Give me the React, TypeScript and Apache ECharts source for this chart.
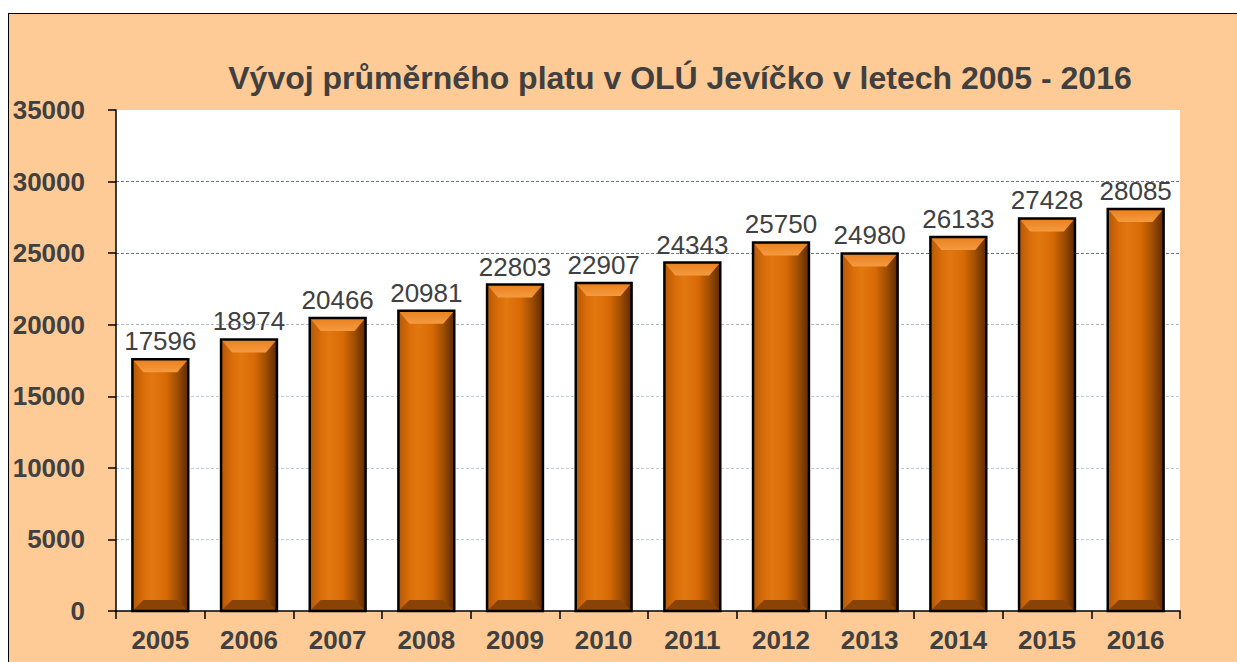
import React, { useEffect, useRef } from "react";
import * as echarts from "echarts";

const categories = ["2005", "2006", "2007", "2008", "2009", "2010", "2011", "2012", "2013", "2014", "2015", "2016"];
const values = [17596, 18974, 20466, 20981, 22803, 22907, 24343, 25750, 24980, 26133, 27428, 28085];
const yTicks = { min: 0, max: 35000, interval: 5000 };
const titleText = "Vývoj průměrného platu v OLÚ Jevíčko v letech 2005 - 2016";

const FONT = "Liberation Sans, Arial, sans-serif";
const TEXT = "#404040";

export default function App() {
  const ref = useRef<HTMLDivElement>(null);
  useEffect(() => {
    if (!ref.current) return;
    const chart = echarts.init(ref.current, null, { renderer: "svg" });
    const option: any = {
      animation: false,
      backgroundColor: "#fecb97",
      title: {
        text: titleText,
        left: 666,
        top: 43,
        textAlign: "center",
        textStyle: { fontFamily: FONT, fontSize: 32, fontWeight: "bold", color: TEXT },
      },
      grid: {
        left: 107,
        top: 96,
        right: 57,
        bottom: 51,
        show: true,
        backgroundColor: "#ffffff",
        borderWidth: 0,
      },
      xAxis: {
        type: "category",
        data: categories,
        axisLine: { lineStyle: { color: "#000", width: 1.5 } },
        axisTick: { show: true, length: 8, lineStyle: { color: "#000", width: 1.5 } },
        axisLabel: { margin: 16, fontFamily: FONT, fontSize: 26, fontWeight: "bold", color: TEXT },
      },
      yAxis: {
        type: "value",
        min: yTicks.min,
        max: yTicks.max,
        interval: yTicks.interval,
        axisLine: { show: true, lineStyle: { color: "#000", width: 1.5 } },
        axisTick: { show: true, length: 8, lineStyle: { color: "#000", width: 1.5 } },
        axisLabel: {
          margin: 31,
          fontFamily: FONT,
          fontSize: 26,
          fontWeight: "bold",
          color: TEXT,
          formatter: (v: number) => String(v),
        },
        splitLine: {
          show: true,
          lineStyle: {
            type: [3, 2],
            width: 1,
            color: ["rgba(0,0,0,0)", "#b9cde2", "#b9cde2", "#b9cde2", "#a9b9cc", "#6f7680", "#6f7680", "rgba(0,0,0,0)"],
          },
        },
      },
      series: [
        {
          type: "custom",
          data: values.map((v, i) => [i, v]),
          encode: { x: 0, y: 1 },
          renderItem: (params: any, api: any) => {
            const idx = api.value(0);
            const val = api.value(1);
            const top = api.coord([idx, val]);
            const base = api.coord([idx, 0]);
            const w = api.size([1, 0])[0] * 0.63;
            const x0 = top[0] - w / 2;
            const x1 = top[0] + w / 2;
            const y0 = top[1];
            const yb = base[1];
            const b = 11;
            const bt = 13;
            return {
              type: "group",
              children: [
                {
                  type: "rect",
                  shape: { x: x0, y: y0, width: w, height: yb - y0 },
                  style: {
                    fill: new echarts.graphic.LinearGradient(0, 0, 1, 0, [
                      { offset: 0, color: "#b45806" },
                      { offset: 0.2, color: "#da6d08" },
                      { offset: 0.35, color: "#e27810" },
                      { offset: 0.6, color: "#d86a06" },
                      { offset: 0.8, color: "#a04e02" },
                      { offset: 1, color: "#5e2a00" },
                    ]),
                  },
                },
                {
                  type: "polygon",
                  shape: { points: [[x0, y0], [x1, y0], [x1 - b, y0 + bt], [x0 + b, y0 + bt]] },
                  style: {
                    fill: new echarts.graphic.LinearGradient(0, 0, 0, 1, [
                      { offset: 0, color: "#e8801c" },
                      { offset: 1, color: "#f59a40" },
                    ]),
                  },
                },
                {
                  type: "polygon",
                  shape: { points: [[x0, yb], [x1, yb], [x1 - b, yb - b], [x0 + b, yb - b]] },
                  style: { fill: "#8a4306" },
                },
                {
                  type: "rect",
                  shape: { x: x0, y: y0, width: w, height: yb - y0 },
                  style: { fill: "none", stroke: "#000", lineWidth: 2.5 },
                },
                {
                  type: "text",
                  x: top[0],
                  y: y0 - 5,
                  style: {
                    text: String(val),
                    textAlign: "center",
                    textVerticalAlign: "bottom",
                    fontFamily: FONT,
                    fontSize: 26,
                    fill: TEXT,
                  },
                },
              ],
            };
          },
        },
      ],
    };
    chart.setOption(option);
    return () => chart.dispose();
  }, []);

  return (
    <div
      style={{
        position: "fixed",
        left: 8,
        top: 13,
        width: 1229,
        height: 649,
        boxSizing: "border-box",
        borderLeft: "1px solid #000",
        borderTop: "1px solid #000",
        background: "#fecb97",
      }}
    >
      <div ref={ref} style={{ width: 1228, height: 648 }} />
    </div>
  );
}
